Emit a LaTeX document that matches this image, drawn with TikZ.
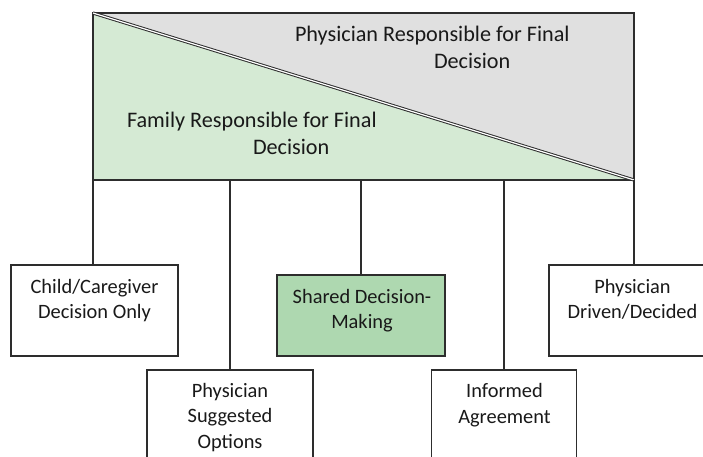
\documentclass[tikz,border=0pt]{standalone}
\usepackage{fontspec}
\setmainfont{Carlito}
\definecolor{famgreen}{RGB}{213,234,212}
\definecolor{physgray}{RGB}{224,224,224}
\definecolor{sharedgreen}{RGB}{174,216,176}
\definecolor{edgecol}{RGB}{45,45,45}
\definecolor{txtcol}{RGB}{25,25,25}
\begin{document}
\begin{tikzpicture}[x=1pt,y=-1pt,
  lbl/.style={font=\fontsize{20.4}{25.5}\selectfont, text=txtcol, inner sep=0pt, outer sep=0pt},
  headlbl/.style={lbl, font=\fontsize{22.2}{27}\selectfont, align=left, anchor=base west},
  optbox/.style={draw=edgecol, line width=1.2pt, fill=white, inner sep=0pt, outer sep=0pt, anchor=north west},
  link/.style={draw=edgecol, line width=1.2pt}]
\useasboundingbox (0,0) rectangle (703,457);
\clip (0,0) rectangle (703,457);
% top banner
\node[draw=none, minimum width=541pt, minimum height=167pt, inner sep=0pt, outer sep=0pt, anchor=north west] (top) at (93,13) {};
\fill[famgreen] (top.north west) -- (top.south west) -- (top.south east) -- cycle;
\fill[physgray] (top.north west) -- (top.north east) -- (top.south east) -- cycle;
\draw[edgecol, line width=1.2pt] (top.north west) rectangle (top.south east);
\draw[edgecol, line width=1pt, double=white, double distance=1.2pt] (top.north west) -- (top.south east);
\node[headlbl] (phystxt) at (295,69) {Physician Responsible for Final\\\hspace*{139pt}Decision};
\node[headlbl] (famtxt) at (127,155) {Family Responsible for Final\\\hspace*{126pt}Decision};
% option boxes
\node[optbox, minimum width=167pt, minimum height=91pt] (child) at (11,265) {};
\node[optbox, minimum width=166pt, minimum height=120pt] (sugg) at (147,370) {};
\node[optbox, fill=sharedgreen, minimum width=168pt, minimum height=81pt] (shared) at (277,275) {};
\node[optbox, minimum width=145pt, minimum height=120pt] (inform) at (431.5,370) {};
\node[optbox, minimum width=167pt, minimum height=91pt] (driven) at (549,265) {};
% connectors
\draw[link] (top.south west) -- (top.south west |- child.north);
\draw[link] (sugg.north) -- (sugg.north |- top.south);
\draw[link] (shared.north) -- (shared.north |- top.south);
\draw[link] (inform.north) -- (inform.north |- top.south);
\draw[link] (top.south east) -- (top.south east |- driven.north);
% labels (anchor = baseline of last line)
\node[lbl, align=center, anchor=base] (childtxt) at (94.5,318.5) {Child/Caregiver\\Decision Only};
\node[lbl, align=center, anchor=base] (suggtxt) at (230,448) {Physician\\Suggested\\Options};
\node[lbl, align=center, anchor=base] (sharedtxt) at (362,328.5) {Shared Decision-\\Making};
\node[lbl, align=center, anchor=base] (informtxt) at (504.5,423) {Informed\\Agreement};
\node[lbl, align=center, anchor=base] (driventxt) at (632.5,318.5) {Physician\\Driven/Decided};
\end{tikzpicture}
\end{document}
